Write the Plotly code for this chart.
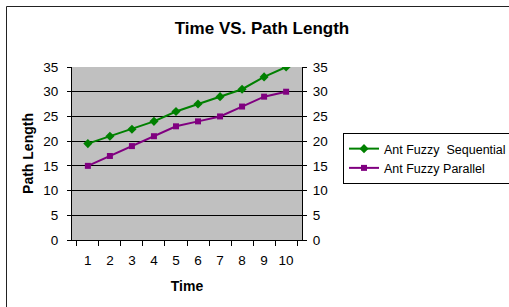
import plotly.graph_objects as go

times = ["1", "2", "3", "4", "5", "6", "7", "8", "9", "10"]
sequential = [19.5, 21.0, 22.4, 24.0, 26.0, 27.5, 29.0, 30.5, 33.0, 35.0]
parallel = [15.0, 17.0, 19.0, 21.0, 23.0, 24.0, 25.0, 27.0, 29.0, 30.0]

FONT = "Liberation Sans, Arial, sans-serif"
W, H = 509, 307
L, R, T, B = 72, 302, 67, 240
PW, PH = R - L, B - T

def px(x):
    return (x - L) / PW

def py(y):
    return (B - y) / PH

fig = go.Figure()
fig.add_trace(go.Scatter(
    x=times, y=sequential, name="Ant Fuzzy\u00a0 Sequential", mode="lines+markers",
    line=dict(color="#008000", width=2),
    marker=dict(symbol="diamond", size=7, color="#008000"),
))
fig.add_trace(go.Scatter(
    x=times, y=parallel, name="Ant Fuzzy Parallel", mode="lines+markers",
    line=dict(color="#800080", width=2),
    marker=dict(symbol="square", size=6, color="#800080"),
))
fig.add_trace(go.Scatter(
    x=times, y=parallel, yaxis="y2", mode="lines", opacity=0,
    showlegend=False, hoverinfo="skip",
))

fig.update_layout(
    width=W, height=H,
    margin=dict(l=L, r=W - R, t=T, b=H - B, autoexpand=False),
    paper_bgcolor="white",
    plot_bgcolor="#C0C0C0",
    font=dict(family=FONT, size=13.5, color="black"),
    title=dict(text="<b>Time VS. Path Length</b>", font=dict(size=17, family=FONT),
               x=262 / W, xanchor="center", y=1 - 28 / H, yanchor="middle"),
    xaxis=dict(type="category", tickson="boundaries", ticks="outside", ticklen=5,
               tickangle=0, ticklabelstandoff=8, tickcolor="black", showline=True,
               linecolor="black", linewidth=1, showgrid=False, zeroline=False,
               title=dict(text="<b>Time</b>", font=dict(size=14), standoff=13)),
    yaxis=dict(range=[0, 35], dtick=5, ticks="outside", ticklen=4, tickcolor="black",
               ticklabelstandoff=6,
               showline=True, linecolor="black", linewidth=1,
               showgrid=True, gridcolor="black", gridwidth=1, zeroline=False,
               title=dict(text="<b>Path Length</b>", font=dict(size=14), standoff=6)),
    yaxis2=dict(range=[0, 35], dtick=5, overlaying="y", side="right", ticks="outside",
                ticklen=4, ticklabelstandoff=3, tickcolor="black", showline=True,
                linecolor="black", linewidth=1, showgrid=False, zeroline=False),
    legend=dict(x=px(343), y=py(133), xanchor="left", yanchor="top",
                bordercolor="black", borderwidth=1, bgcolor="white",
                font=dict(size=12.5, family=FONT)),
    shapes=[dict(type="rect", xref="paper", yref="paper",
                 x0=px(6.5), x1=px(530), y0=py(6.5), y1=py(330),
                 line=dict(color="#222222", width=1), layer="above")],
    showlegend=True,
)

fig.write_html("out.html", config={"displayModeBar": False},
               post_script="document.body.style.margin='0';document.body.style.overflow='hidden';")
